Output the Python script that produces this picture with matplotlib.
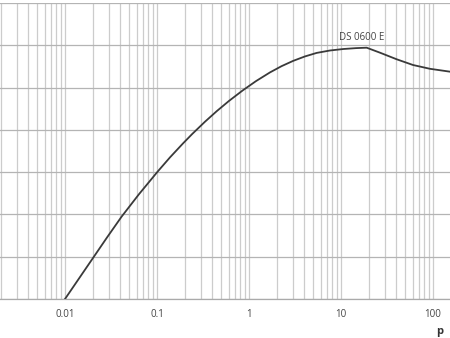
import matplotlib
matplotlib.use("Agg")
import matplotlib.pyplot as plt
from matplotlib.ticker import LogLocator, FixedLocator, NullFormatter

plt.rcParams['font.family'] = ['Open Sans', 'DejaVu Sans']

# Kurve DS 0600 E
p_werte = [0.01, 0.0142, 0.02015, 0.02861, 0.04133, 0.06373, 0.1018, 0.1384, 0.1917,
           0.2401, 0.3323, 0.4455, 0.6063, 0.8541, 1.191, 1.691, 2.256, 3.030, 4.061,
           5.444, 7.594, 10.59, 14.56, 19.02, 26.54, 40.31, 60.62, 92.77, 153.0]
s_werte = [0.0, 0.485, 0.969, 1.454, 1.950, 2.478, 3.014, 3.348, 3.678,
           3.896, 4.191, 4.440, 4.683, 4.931, 5.151, 5.357, 5.504, 5.631, 5.735,
           5.818, 5.875, 5.910, 5.931, 5.941, 5.823, 5.667, 5.532, 5.442, 5.374]
x_ticks = [0.01, 0.1, 1, 10, 100]
x_labels = ["0.01", "0.1", "1", "10", "100"]
kurven_name = "DS 0600 E"

fig = plt.figure(figsize=(4.5, 3.38), dpi=100)
ax = fig.add_axes([0, 0.1154, 1, 0.876])

ax.plot(p_werte, s_werte, color='#3a3a3a', lw=1.3, zorder=3, solid_joinstyle='round')

ax.set_xscale('log')
ax.set_xlim(0.001966, 153)
ax.set_ylim(0, 7)

ax.xaxis.set_major_locator(FixedLocator(x_ticks))
ax.set_xticklabels(x_labels)
ax.xaxis.set_minor_locator(LogLocator(base=10, subs=range(2, 10), numticks=20))
ax.xaxis.set_minor_formatter(NullFormatter())
ax.set_yticks(range(0, 8))
ax.set_yticklabels([])

ax.grid(True, which='both', axis='x', color='#cccccc', lw=0.9)
ax.grid(True, which='major', axis='y', color='#b4b4b4', lw=0.9)
ax.tick_params(which='both', length=0, labelsize=7, colors='#444444', pad=7)

for s in ['top', 'left', 'right']:
    ax.spines[s].set_visible(False)
ax.spines['bottom'].set_color('#aaaaaa')
ax.spines['bottom'].set_linewidth(0.9)

ax.text(16.9, 6.19, kurven_name, fontsize=7, color='#444444', ha='center', va='center')
fig.text(0.969, 0.004, "p", fontsize=8, fontweight='bold', color='#333333', ha='left', va='bottom')

fig.savefig("out.png", dpi=100)
